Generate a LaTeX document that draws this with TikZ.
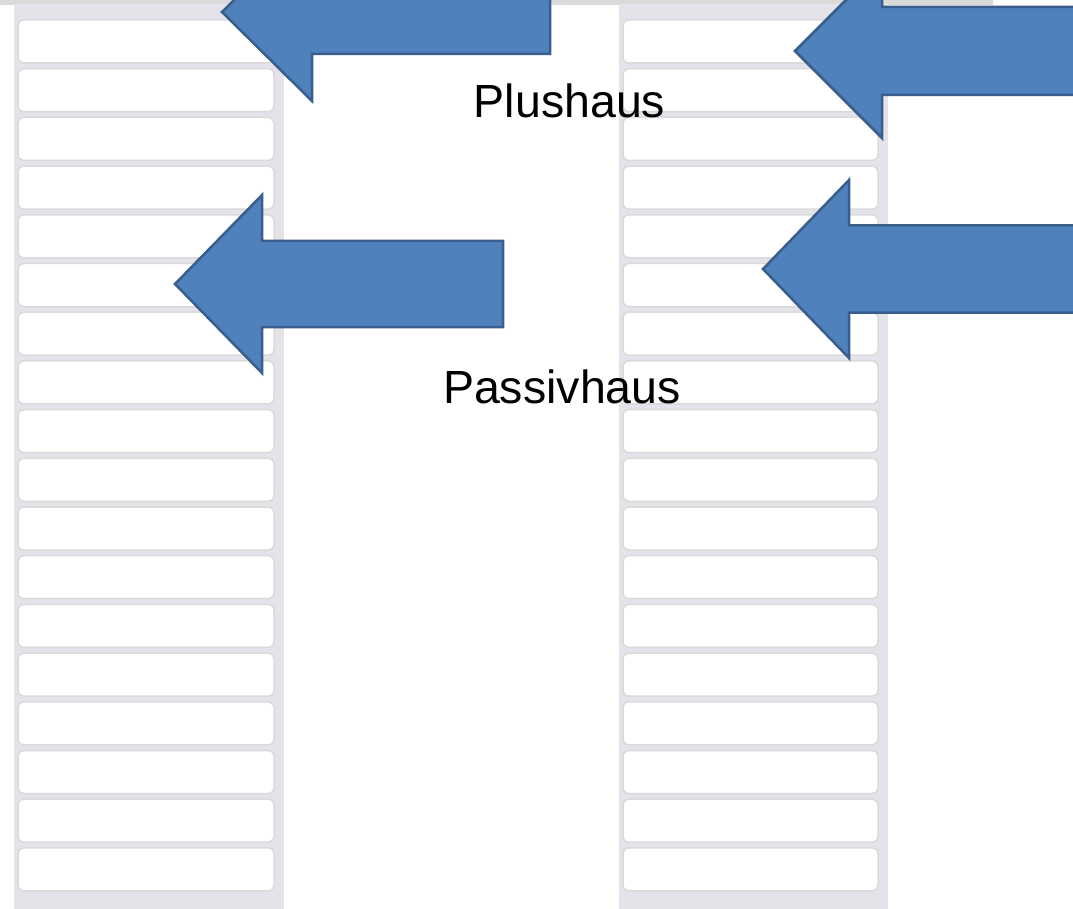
\documentclass[tikz,border=0pt]{standalone}
\usepackage{fontspec}
\setmainfont{Liberation Sans}
\definecolor{arrowfill}{HTML}{4F81BD}
\definecolor{arrowline}{HTML}{3A5E8C}
\definecolor{panelbg}{HTML}{E3E3E9}
\definecolor{rowline}{HTML}{DADADA}
\definecolor{stripgray}{HTML}{DADADA}
\newcommand{\blockleft}[6]{%
  \draw[blockarrow] (#1,#2) -- ({#3},{#2-#4}) -- ({#3},{#2-#5}) -- ({#6},{#2-#5})
    -- ({#6},{#2+#5}) -- ({#3},{#2+#5}) -- ({#3},{#2+#4}) -- cycle;}
\begin{document}
\begin{tikzpicture}[x=1pt,y=-1pt,
  blockarrow/.style={fill=arrowfill, draw=arrowline, line width=2.5pt, line join=miter},
  rowbox/.style={fill=white, draw=rowline, line width=1.5pt, rounded corners=6pt},
  panel/.style={fill=panelbg},
  lbl/.style={font=\fontsize{46.5}{56}\selectfont, text=black, inner sep=0pt, anchor=base}]
\useasboundingbox (0,0) rectangle (1073,909);
\clip (0,0) rectangle (1073,909);
\fill[white] (0,0) rectangle (1073,909);
\fill[stripgray] (0,0) rectangle (993,5);
\fill[panel] (14,4) rectangle (284,912);
\fill[panel] (619,4) rectangle (888,912);
\foreach \i in {0,...,17} {
  \draw[rowbox] (18,{20+48.7*\i}) rectangle (274,{63+48.7*\i});
  \draw[rowbox] (623,{20+48.7*\i}) rectangle (878,{63+48.7*\i});
}
\blockleft{222}{12}{312}{89}{42}{550}
\blockleft{795}{51}{882}{87}{44}{1100}
\blockleft{175}{284}{262}{89}{43}{503}
\blockleft{763}{269}{849}{89}{43.5}{1100}
\node[lbl] (plus) at (569.5,118) {Plushaus};
\node[lbl] (passiv) at (562,403) {Passivhaus};
\end{tikzpicture}
\end{document}
